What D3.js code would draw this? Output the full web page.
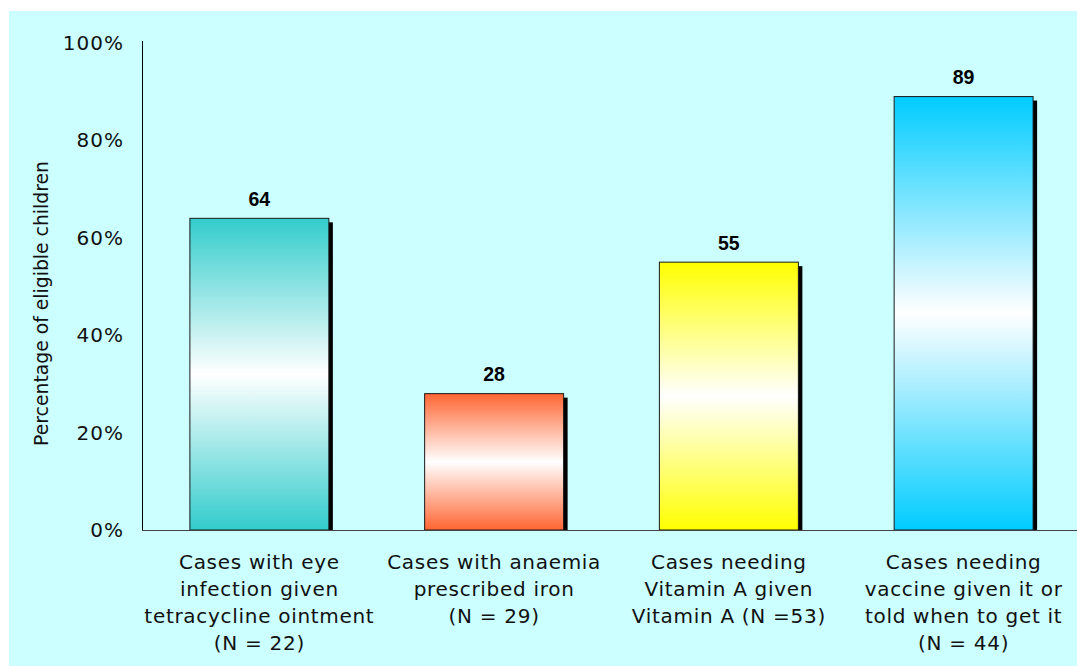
<!DOCTYPE html>
<html>
<head>
<meta charset="utf-8">
<script src="https://cdn.jsdelivr.net/npm/d3@7"></script>
<style>
  html, body { margin: 0; padding: 0; background: #ffffff; }
  svg { display: block; }
</style>
</head>
<body>
<svg id="chart" width="1077" height="666"></svg>
<script>
// Share of eligible children who received the indicated care
const categories = [
  ["Cases with eye", "infection given", "tetracycline ointment", "(N = 22)"],
  ["Cases with anaemia", "prescribed iron", "(N = 29)"],
  ["Cases needing", "Vitamin A given", "Vitamin A (N =53)"],
  ["Cases needing", "vaccine given it or", "told when to get it", "(N = 44)"]
];
const values = [64, 28, 55, 89];
const barColors = ["#33cccc", "#ff6633", "#ffff00", "#00ccff"];
const yTicks = [0, 20, 40, 60, 80, 100];
const yTitle = "Percentage of eligible children";

const svg = d3.select("#chart");
const W = 1077, H = 666;
const left = 142, baseY = 530, topY = 43;

// panel background
svg.append("rect")
  .attr("x", 9).attr("y", 11)
  .attr("width", W - 9).attr("height", H - 11)
  .attr("fill", "#ccffff");

const keys = categories.map((c, i) => "c" + i);
const x = d3.scaleBand()
  .domain(keys)
  .range([left, 1081])
  .paddingInner(0.408)
  .paddingOuter(0.204);

const y = d3.scaleLinear().domain([0, 100]).range([baseY, topY]);

// vertical gradients: colour at both ends, white in the middle
const defs = svg.append("defs");
barColors.forEach((c, i) => {
  const g = defs.append("linearGradient")
    .attr("id", "grad" + i)
    .attr("x1", 0).attr("y1", 0).attr("x2", 0).attr("y2", 1);
  g.append("stop").attr("offset", "0%").attr("stop-color", c);
  g.append("stop").attr("offset", "50%").attr("stop-color", "#ffffff");
  g.append("stop").attr("offset", "100%").attr("stop-color", c);
});

const data = values.map((v, i) => ({ key: keys[i], v, i }));

// drop shadows
const shadowOff = 4;
svg.append("g").selectAll("rect")
  .data(data)
  .join("rect")
  .attr("x", d => x(d.key) + shadowOff)
  .attr("y", d => y(d.v) + shadowOff)
  .attr("width", x.bandwidth())
  .attr("height", d => Math.max(0, baseY - y(d.v) - shadowOff))
  .attr("fill", "#000000");

// bars
svg.append("g").selectAll("rect")
  .data(data)
  .join("rect")
  .attr("x", d => x(d.key))
  .attr("y", d => y(d.v))
  .attr("width", x.bandwidth())
  .attr("height", d => baseY - y(d.v))
  .attr("fill", d => `url(#grad${d.i})`)
  .attr("stroke", "#1a1a1a")
  .attr("stroke-width", 1);

// value labels
svg.append("g").selectAll("text")
  .data(data)
  .join("text")
  .attr("x", d => x(d.key) + x.bandwidth() / 2)
  .attr("y", d => y(d.v) - 12.5)
  .attr("text-anchor", "middle")
  .attr("font-family", "'Liberation Sans', Arial, sans-serif")
  .attr("font-weight", "bold")
  .attr("font-size", "19.5px")
  .attr("fill", "#000")
  .text(d => d.v);

// y axis
const yAxis = d3.axisLeft(y)
  .tickValues(yTicks)
  .tickSize(0)
  .tickPadding(18)
  .tickFormat(d => d + "%");
const gy = svg.append("g")
  .attr("transform", `translate(${left},0)`)
  .call(yAxis);
gy.select(".domain").remove();
gy.selectAll("text")
  .attr("font-family", "'DejaVu Sans', Verdana, sans-serif")
  .attr("font-size", "20px")
  .attr("letter-spacing", "1px")
  .attr("fill", "#111");

svg.append("line")
  .attr("x1", left + 0.5).attr("x2", left + 0.5)
  .attr("y1", topY - 2).attr("y2", baseY)
  .attr("stroke", "#000").attr("stroke-width", 1);

// baseline
svg.append("line")
  .attr("x1", left).attr("x2", W)
  .attr("y1", baseY + 0.5).attr("y2", baseY + 0.5)
  .attr("stroke", "#444").attr("stroke-width", 1.2);

// y axis title
svg.append("text")
  .attr("transform", `translate(48,${(160 + 447) / 2}) rotate(-90)`)
  .attr("text-anchor", "middle")
  .attr("font-family", "'DejaVu Sans', Verdana, sans-serif")
  .attr("font-size", "18.8px")
  .attr("fill", "#111")
  .text(yTitle);

// category labels
const lineH = 27;
const cat = svg.append("g").selectAll("text")
  .data(categories)
  .join("text")
  .attr("text-anchor", "middle")
  .attr("font-family", "'DejaVu Sans', Verdana, sans-serif")
  .attr("font-size", "20px")
  .attr("letter-spacing", "0.7px")
  .attr("fill", "#111");
cat.each(function(lines, i) {
  const cx = x(keys[i]) + x.bandwidth() / 2;
  d3.select(this).selectAll("tspan")
    .data(lines)
    .join("tspan")
    .attr("x", cx)
    .attr("y", (d, j) => 569 + j * lineH)
    .text(d => d);
});
</script>
</body>
</html>
